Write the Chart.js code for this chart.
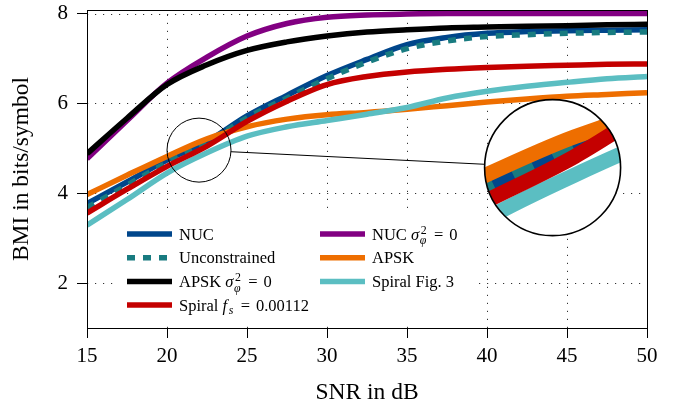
<!DOCTYPE html>
<html><head><meta charset="utf-8">
<script src="https://cdn.jsdelivr.net/npm/chart.js@4.4.0/dist/chart.umd.min.js"></script>
<style>html,body{margin:0;padding:0;background:#fff;}canvas{display:block}</style>
</head><body>
<canvas id="c" width="686" height="412"></canvas>
<script>
// ---- data ----
const snr = [15, 17.5, 20, 22.5, 25, 27.5, 30, 32.5, 35, 37.5, 40, 42.5, 45, 47.5, 50];
const nuc          = [3.77, 4.25, 4.74, 5.15, 5.72, 6.18, 6.62, 6.98, 7.31, 7.47, 7.56, 7.60, 7.62, 7.63, 7.64];
const nucNoPhase   = [4.77, 5.62, 6.45, 7.03, 7.50, 7.78, 7.92, 7.97, 7.99, 8.00, 8.00, 8.00, 8.00, 8.00, 8.00];
const unconstrained= [3.68, 4.18, 4.68, 5.12, 5.68, 6.12, 6.55, 6.92, 7.22, 7.39, 7.49, 7.53, 7.56, 7.58, 7.59];
const apsk         = [3.97, 4.40, 4.82, 5.21, 5.48, 5.65, 5.75, 5.80, 5.87, 5.95, 6.03, 6.10, 6.16, 6.20, 6.24];
const apskNoPhase  = [4.88, 5.67, 6.42, 6.86, 7.18, 7.37, 7.50, 7.59, 7.64, 7.68, 7.70, 7.72, 7.73, 7.75, 7.76];
const spiralFig3   = [3.29, 3.86, 4.45, 4.90, 5.27, 5.48, 5.62, 5.76, 5.91, 6.12, 6.27, 6.38, 6.47, 6.55, 6.60];
const spiralFs     = [3.56, 4.09, 4.60, 5.05, 5.60, 6.05, 6.42, 6.60, 6.70, 6.76, 6.80, 6.83, 6.85, 6.87, 6.88];
const xTicks = [15, 20, 25, 30, 35, 40, 45, 50];
const yTicks = [2, 4, 6, 8];
const seriesLabels = ['NUC', 'NUC σφ² = 0', 'Unconstrained', 'APSK', 'APSK σφ² = 0', 'Spiral Fig. 3', 'Spiral fs = 0.00112'];
const labelParts = [
  [['NUC','r']],
  [['NUC ','r'],['σ','i'],['2','sup'],['φ','sub'],['=','eq'],['0','r']],
  [['Unconstrained','r']],
  [['APSK','r']],
  [['APSK ','r'],['σ','i'],['2','sup'],['φ','sub'],['=','eq'],['0','r']],
  [['Spiral Fig. 3','r']],
  [['Spiral ','r'],['f','i'],['s','subi'],['=','eq'],['0.00112','r']]
];
const seriesValues = [nuc, nucNoPhase, unconstrained, apsk, apskNoPhase, spiralFig3, spiralFs];
const colors = ['#00468b', '#820082', '#187b80', '#ee6e00', '#000000', '#5bbec2', '#c40000'];
const dashes = [[], [], [8, 8], [], [], [], []];

const FONT = '"Liberation Serif", "Times New Roman", serif';

function drawRich(ctx, parts, x, y, size) {
  let cx = x, pendingSup = 0;
  const small = size * 0.72;
  for (const [t, k] of parts) {
    let font, dy = 0;
    if (k === 'r' || k === 'eq') font = `${size}px ${FONT}`;
    else if (k === 'i') font = `italic ${size}px ${FONT}`;
    else if (k === 'sup') { font = `${small}px ${FONT}`; dy = -size * 0.36; }
    else if (k === 'sub') { font = `italic ${small}px ${FONT}`; dy = size * 0.28; }
    else if (k === 'subi') { font = `italic ${small}px ${FONT}`; dy = size * 0.22; }
    ctx.font = font;
    const w = ctx.measureText(t).width;
    if (k === 'eq') {
      cx += size * 0.36;
      ctx.fillText(t, cx, y);
      cx += w + size * 0.36;
      continue;
    }
    if (k === 'sup') { ctx.fillText(t, cx + 1, y + dy); pendingSup = w + 1; continue; }
    if (k === 'sub') { ctx.fillText(t, cx, y + dy); cx += Math.max(w, pendingSup) + size * 0.08; pendingSup = 0; continue; }
    if (k === 'subi') { ctx.fillText(t, cx + size * 0.06, y + dy); cx += w + size * 0.14; continue; }
    ctx.fillText(t, cx, y + dy);
    cx += w + (k === 'i' ? size * 0.04 : 0);
  }
}

const gridPlugin = {
  id: 'dotgrid',
  beforeDatasetsDraw(chart) {
    const {ctx, chartArea: a, scales: {x, y}} = chart;
    ctx.save();
    ctx.strokeStyle = '#333';
    ctx.lineWidth = 1;
    ctx.setLineDash([1.2, 6.8]);
    for (const v of xTicks) {
      const px = Math.round(x.getPixelForValue(v)) + 0.5;
      ctx.beginPath(); ctx.moveTo(px, a.bottom); ctx.lineTo(px, a.top); ctx.stroke();
    }
    for (const v of yTicks) {
      const py = Math.round(y.getPixelForValue(v)) + 0.5;
      ctx.beginPath(); ctx.moveTo(a.left, py); ctx.lineTo(a.right, py); ctx.stroke();
    }
    ctx.restore();
  }
};

const legendPlugin = {
  id: 'richlegend',
  afterDatasetsDraw(chart, args, o) {
    const {ctx, chartArea: a} = chart;
    const L = a.left + o.dx, T = a.top + o.dy;
    ctx.save();
    ctx.fillStyle = '#fff';
    ctx.fillRect(L, T, o.w, o.h);
    chart.data.datasets.forEach((ds, i) => {
      const col = i % 2, row = Math.floor(i / 2);
      const x0 = L + 12 + col * 193;
      const yc = T + 21 + row * 23.7;
      ctx.strokeStyle = ds.borderColor;
      ctx.lineWidth = ds.borderWidth;
      ctx.setLineDash(ds.borderDash || []);
      ctx.beginPath(); ctx.moveTo(x0, yc); ctx.lineTo(x0 + 45, yc); ctx.stroke();
      ctx.setLineDash([]);
      ctx.fillStyle = '#000';
      ctx.textBaseline = 'alphabetic';
      ctx.textAlign = 'left';
      drawRich(ctx, labelParts[i], x0 + 52, yc + 5.5, 16.5);
    });
    ctx.restore();
  }
};

const spyPlugin = {
  id: 'spy',
  afterDatasetsDraw(chart, args, o) {
    const {ctx, scales: {x, y}} = chart;
    const sx = x.getPixelForValue(o.at[0]), sy = y.getPixelForValue(o.at[1]);
    const bx = x.getPixelForValue(o.to[0]), by = y.getPixelForValue(o.to[1]);
    ctx.save();
    ctx.beginPath(); ctx.arc(bx, by, o.R, 0, Math.PI * 2);
    ctx.fillStyle = '#fff'; ctx.fill();
    ctx.clip();
    ctx.translate(bx, by); ctx.scale(o.mag, o.mag); ctx.translate(-sx, -sy);
    const metas = chart.getSortedVisibleDatasetMetas();
    for (let i = metas.length - 1; i >= 0; i--) metas[i].controller.draw();
    ctx.restore();
    ctx.save();
    ctx.strokeStyle = '#000';
    ctx.lineWidth = 1.6;
    ctx.beginPath(); ctx.arc(bx, by, o.R, 0, Math.PI * 2); ctx.stroke();
    ctx.lineWidth = 1;
    ctx.beginPath(); ctx.arc(sx, sy, o.r, 0, Math.PI * 2); ctx.stroke();
    const ang = Math.atan2(by - sy, bx - sx);
    ctx.beginPath();
    ctx.moveTo(sx + o.r * Math.cos(ang), sy + o.r * Math.sin(ang));
    ctx.lineTo(bx - o.R * Math.cos(ang), by - o.R * Math.sin(ang));
    ctx.stroke();
    ctx.restore();
  }
};

const boxPlugin = {
  id: 'box',
  afterDraw(chart) {
    const {ctx, chartArea: a} = chart;
    ctx.save();
    ctx.strokeStyle = '#000'; ctx.lineWidth = 1;
    ctx.strokeRect(Math.round(a.left) + 0.5, Math.round(a.top) + 0.5, Math.round(a.right - a.left), Math.round(a.bottom - a.top));
    ctx.restore();
  }
};

const datasets = seriesValues.map((vals, i) => ({
  label: seriesLabels[i],
  data: snr.map((s, j) => ({x: s, y: vals[j]})),
  borderColor: colors[i],
  backgroundColor: colors[i],
  borderWidth: 5.5,
  borderDash: dashes[i],
  borderCapStyle: 'butt',
  pointRadius: 0,
  fill: false,
  cubicInterpolationMode: 'monotone',
  order: seriesValues.length - i
}));

new Chart(document.getElementById('c'), {
  type: 'line',
  data: {datasets},
  plugins: [gridPlugin, legendPlugin, spyPlugin, boxPlugin],
  options: {
    responsive: false,
    animation: false,
    devicePixelRatio: 1,
    layout: {padding: {left: 0, right: 39, top: 10, bottom: 0}},
    plugins: {
      legend: {display: false},
      tooltip: {enabled: false},
      richlegend: {dx: 28, dy: 203, w: 361, h: 107},
      spy: {at: [22, 4.96], to: [44.1, 4.57], r: 32, R: 68, mag: 2.75}
    },
    scales: {
      x: {
        type: 'linear', min: 15, max: 50,
        afterBuildTicks: s => { s.ticks = xTicks.map(v => ({value: v})); },
        afterFit: s => { s.height = 84; s.paddingLeft = 0; s.paddingRight = 0; },
        grid: {display: true, drawOnChartArea: false, drawTicks: true, tickLength: 10, tickColor: '#000', tickWidth: 1},
        border: {display: false},
        ticks: {font: {family: FONT, size: 21}, color: '#000', padding: 6, maxRotation: 0, autoSkip: false},
        title: {display: true, text: 'SNR in dB', font: {family: FONT, size: 23.5}, color: '#000', padding: {top: 0, bottom: 5}}
      },
      y: {
        type: 'linear', min: 1, max: 8.08,
        afterBuildTicks: s => { s.ticks = yTicks.map(v => ({value: v})); },
        afterFit: s => { s.width = 87; s.paddingTop = 0; s.paddingBottom = 0; },
        grid: {display: true, drawOnChartArea: false, drawTicks: true, tickLength: 10, tickColor: '#000', tickWidth: 1},
        border: {display: false},
        ticks: {font: {family: FONT, size: 21}, color: '#000', padding: 9, autoSkip: false},
        title: {display: true, text: 'BMI in bits/symbol', font: {family: FONT, size: 23.5}, color: '#000', padding: {top: 8, bottom: 0}}
      }
    }
  }
});
</script>
</body></html>
